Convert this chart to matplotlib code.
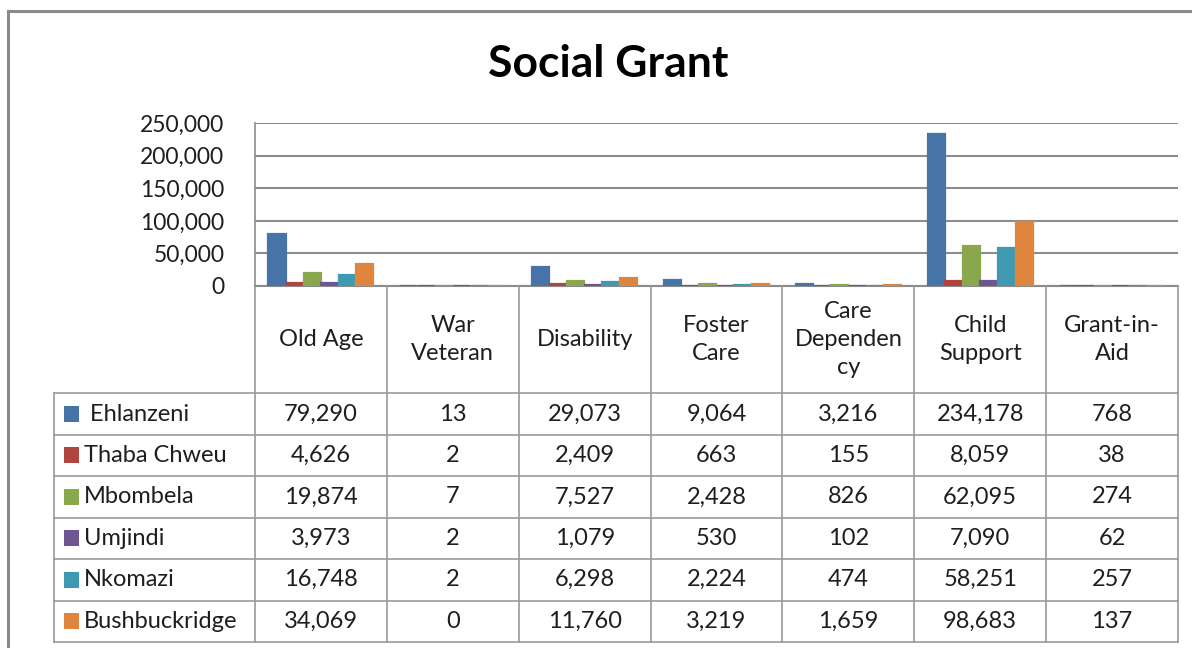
import matplotlib
matplotlib.use("Agg")
import matplotlib.pyplot as plt
import numpy as np

plt.rcParams['font.family'] = ['Lato', 'DejaVu Sans']

categories = ["Old Age", "War\nVeteran", "Disability", "Foster\nCare",
              "Care\nDependen\ncy", "Child\nSupport", "Grant-in-\nAid"]
series_names = [" Ehlanzeni", "Thaba Chweu", "Mbombela", "Umjindi", "Nkomazi", "Bushbuckridge"]
ehlanzeni     = [79290, 13, 29073, 9064, 3216, 234178, 768]
thaba_chweu   = [4626, 2, 2409, 663, 155, 8059, 38]
mbombela      = [19874, 7, 7527, 2428, 826, 62095, 274]
umjindi       = [3973, 2, 1079, 530, 102, 7090, 62]
nkomazi       = [16748, 2, 6298, 2224, 474, 58251, 257]
bushbuckridge = [34069, 0, 11760, 3219, 1659, 98683, 137]
series_values = [ehlanzeni, thaba_chweu, mbombela, umjindi, nkomazi, bushbuckridge]
yticks = [0, 50000, 100000, 150000, 200000, 250000]

colors = ['#4674A9', '#B0443F', '#8BA74D', '#6E5691', '#3F9AB1', '#E0853E']

W, H = 1192, 648
fig = plt.figure(figsize=(W / 100, H / 100), dpi=100)
fig.patch.set_facecolor('white')

# layout in pixels
pl, pr, pt, pb = 255, 1178, 123.3, 286
leg_l = 54
hdr_b = 393.3
row_h = (642 - hdr_b) / 6
grid_c = '#8c8c8c'
tab_c = '#9a9a9a'
fs = 17
txt_c = '#1e1e1e'

# overlay axes in pixel coordinates
ov = fig.add_axes([0, 0, 1, 1])
ov.set_xlim(0, W)
ov.set_ylim(H, 0)
ov.axis('off')

# main chart axes
ax = fig.add_axes([pl / W, 1 - pb / H, (pr - pl) / W, (pb - pt) / H])
ax.set_facecolor('none')
n = len(series_names)
x = np.arange(len(categories))
bw = 1 / (n + 1.5)
for i, (name, vals) in enumerate(zip(series_names, series_values)):
    ax.bar(x - 0.5 + 0.75 * bw + (i + 0.5) * bw, vals, width=bw * 0.97, color=colors[i],
           edgecolor=colors[i], linewidth=1.6, zorder=3)
ax.set_xlim(-0.5, len(categories) - 0.5)
ax.set_ylim(0, 250000)
ax.set_yticks(yticks)
ax.set_yticklabels([f"{v:,}" for v in yticks], fontsize=fs - 0.5, color=txt_c)
ax.set_xticks([])
ax.tick_params(axis='y', length=0, pad=22)
ax.yaxis.grid(True, color=grid_c, linewidth=1.5, zorder=0)
for s in ['top', 'right', 'bottom']:
    ax.spines[s].set_visible(False)
ax.spines['left'].set_color(grid_c)
ax.spines['left'].set_linewidth(1.2)

# title
ov.text(608, 64, "Social Grant", fontsize=32, fontweight='bold', ha='center', va='center', color='black')

# outer border
ov.plot([8, 8], [H + 5, 11], color='#8a8a8a', lw=2.2)
ov.plot([8, W + 5], [11, 11], color='#8a8a8a', lw=2.2)

# table
ncol = len(categories)
cw = (pr - pl) / ncol
tab_b = hdr_b + 6 * row_h
ov.plot([pl, pr], [pb, pb], color=grid_c, lw=1.5)
for j in range(ncol + 1):
    xx = pl + j * cw
    ov.plot([xx, xx], [pb, tab_b], color=tab_c, lw=1.2)
ov.plot([leg_l, leg_l], [hdr_b, tab_b], color=tab_c, lw=1.2)
for r in range(7):
    yy = hdr_b + r * row_h
    ov.plot([leg_l, pr], [yy, yy], color=tab_c, lw=1.2)

for j, c in enumerate(categories):
    ov.text(pl + (j + 0.5) * cw, (pb + hdr_b) / 2, c, fontsize=fs, ha='center', va='center',
            linespacing=1.42, color=txt_c)

for r, (name, vals) in enumerate(zip(series_names, series_values)):
    yc = hdr_b + (r + 0.5) * row_h
    ov.add_patch(plt.Rectangle((64, yc - 8), 15, 16, facecolor=colors[r], edgecolor='none'))
    ov.text(84, yc, name, fontsize=fs, ha='left', va='center', color=txt_c)
    for j, v in enumerate(vals):
        ov.text(pl + (j + 0.5) * cw, yc, f"{v:,}", fontsize=fs, ha='center', va='center', color=txt_c)

fig.savefig("out.png", dpi=100, facecolor='white')
